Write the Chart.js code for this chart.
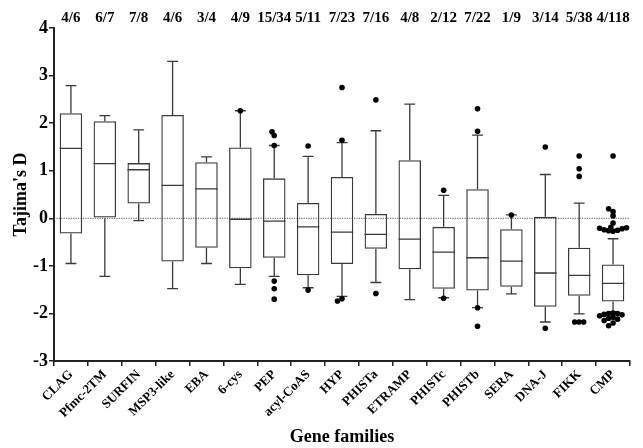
<!DOCTYPE html>
<html>
<head>
<meta charset="utf-8">
<script src="https://cdn.jsdelivr.net/npm/chart.js@4.4.1/dist/chart.umd.min.js"></script>
<style>
  html, body { margin: 0; padding: 0; background: #fff; }
  #wrap { width: 643px; height: 448px; }
</style>
</head>
<body>
<div id="wrap"><canvas id="chart"></canvas></div>
<script>
const families = ['CLAG', 'Pfmc-2TM', 'SURFIN', 'MSP3-like', 'EBA', '6-cys', 'PEP', 'acyl-CoAS',
  'HYP', 'PHISTa', 'ETRAMP', 'PHISTc', 'PHISTb', 'SERA', 'DNA-J', 'FIKK', 'CMP'];
const counts = ['4/6', '6/7', '7/8', '4/6', '3/4', '4/9', '15/34', '5/11',
  '7/23', '7/16', '4/8', '2/12', '7/22', '1/9', '3/14', '5/38', '4/118'];

const whiskerLow  = [-0.95, -1.22, -0.05, -1.48, -0.95, -1.39, -1.22, -1.46, -1.64, -1.35, -1.71, -1.67, -1.88, -1.59, -2.18, -2.01, -1.96];
const q1          = [-0.32,  0.00,  0.31, -0.91, -0.62, -1.05, -0.83, -1.20, -0.96, -0.64, -1.07, -1.48, -1.52, -1.44, -1.86, -1.63, -1.75];
const median      = [ 1.47,  1.15,  1.02,  0.69,  0.62, -0.02, -0.06, -0.18, -0.29, -0.34, -0.44, -0.71, -0.83, -0.90, -1.15, -1.20, -1.37];
const q3          = [ 2.21,  2.04,  1.16,  2.17,  1.18,  1.49,  0.84,  0.32,  0.87,  0.09,  1.22, -0.18,  0.61, -0.23,  0.03, -0.62, -0.97];
const whiskerHigh = [ 2.79,  2.16,  1.86,  3.30,  1.29,  2.26,  1.53,  1.30,  1.59,  1.84,  2.40,  0.48,  1.75,  0.07,  0.92,  0.32, -0.43];

const outliers = [
  [], [], [], [], [],
  [2.26],
  [1.82, 1.74, 1.53, -1.32, -1.48, -1.70],
  [1.52, -1.51],
  [2.75, 1.64, -1.69, -1.74],
  [2.49, -1.58],
  [],
  [0.59, -1.68],
  [2.30, 1.83, -1.88, -2.27],
  [0.07],
  [1.50, -2.31],
  [1.31, 1.04, 0.88, -2.18, -2.18, -2.18],
  [1.31, 0.20, 0.14, 0.05, -0.10, -0.19, -0.20, -0.22, -0.24, -0.26, -0.27, -0.25, -0.21,
   -1.99, -2.00, -2.00, -2.02, -2.03, -2.05, -2.08, -2.10, -2.12, -2.15, -2.20, -2.26]
];

// spread overlapping dots sideways, nearest to the box first (units: category / y value)
function dodge(values, idx) {
  const rx = 0.165, ry = 0.117;
  const mid = median[idx];
  const placed = [];
  values.slice().sort((a, b) => Math.abs(a - mid) - Math.abs(b - mid)).forEach(v => {
    for (let k = 0; k < 24; k++) {
      const off = (k % 2 ? -1 : 1) * Math.ceil(k / 2) * rx * 0.4;
      const hit = placed.some(p => ((p.x - off) / rx) ** 2 + ((p.y - v) / ry) ** 2 < 0.5);
      if (!hit) { placed.push({ x: off, y: v }); break; }
    }
  });
  return placed.map(p => ({ x: idx + p.x, y: p.y }));
}

const dots = outliers.flatMap((vals, i) => dodge(vals, i));

const ink = '#3a3a3a';
const serif = 'Liberation Serif, Times New Roman, serif';

const boxPlugin = {
  id: 'boxWhiskers',
  beforeDatasetsDraw(chart) {
    const { ctx, chartArea, scales: { y } } = chart;
    const bars = chart.getDatasetMeta(0).data;
    ctx.save();
    // dotted zero line
    const y0 = y.getPixelForValue(0);
    ctx.strokeStyle = '#555';
    ctx.lineWidth = 1;
    ctx.setLineDash([1.2, 1.2]);
    ctx.beginPath();
    ctx.moveTo(chartArea.left, y0);
    ctx.lineTo(chartArea.right, y0);
    ctx.stroke();
    ctx.setLineDash([]);

    ctx.strokeStyle = ink;
    ctx.lineWidth = 1.3;
    families.forEach((f, i) => {
      const cx = bars[i].x;
      const w = bars[i].width;
      const cap = w * 0.24;
      const pHi = y.getPixelForValue(whiskerHigh[i]);
      const pLo = y.getPixelForValue(whiskerLow[i]);
      const pQ1 = y.getPixelForValue(q1[i]);
      const pQ3 = y.getPixelForValue(q3[i]);
      const pMed = y.getPixelForValue(median[i]);
      ctx.beginPath();
      ctx.moveTo(cx, pQ3); ctx.lineTo(cx, pHi);
      ctx.moveTo(cx - cap, pHi); ctx.lineTo(cx + cap, pHi);
      ctx.moveTo(cx, pQ1); ctx.lineTo(cx, pLo);
      ctx.moveTo(cx - cap, pLo); ctx.lineTo(cx + cap, pLo);
      ctx.moveTo(cx - w / 2, pMed); ctx.lineTo(cx + w / 2, pMed);
      ctx.stroke();
    });
    ctx.restore();
  }
};

new Chart(document.getElementById('chart'), {
  type: 'bar',
  data: {
    labels: families,
    datasets: [
      {
        data: q1.map((v, i) => [v, q3[i]]),
        backgroundColor: 'rgba(0,0,0,0)',
        borderColor: ink,
        borderWidth: 1.3,
        borderSkipped: false,
        grouped: false,
        categoryPercentage: 1,
        barPercentage: 0.665,
      },
      {
        type: 'scatter',
        data: dots,
        xAxisID: 'xs',
        pointRadius: 2.8,
        pointBackgroundColor: '#000',
        pointBorderWidth: 0,
      },
    ],
  },
  options: {
    responsive: true,
    maintainAspectRatio: false,
    animation: false,
    layout: { padding: { top: 0, right: 13, bottom: 0, left: 0 } },
    plugins: { legend: { display: false }, tooltip: { enabled: false } },
    scales: {
      x: {
        type: 'category',
        position: 'bottom',
        offset: true,
        afterFit: (s) => { s.height = 87; },
        grid: { drawOnChartArea: false, drawTicks: true, tickLength: 5, color: '#222', lineWidth: 1.5 },
        border: { color: '#222', width: 2 },
        ticks: {
          autoSkip: false,
          minRotation: 45,
          maxRotation: 45,
          padding: 1,
          color: '#000',
          font: { family: serif, size: 13, weight: 'bold' },
        },
        title: {
          display: true,
          text: 'Gene families',
          color: '#000',
          padding: { top: 0, bottom: 0 },
          font: { family: serif, size: 18, weight: 'bold' },
        },
      },
      xTop: {
        type: 'category',
        position: 'top',
        labels: counts,
        offset: true,
        afterFit: (s) => { s.height = 28; },
        grid: { display: false, drawTicks: false },
        border: { display: false },
        ticks: {
          autoSkip: false,
          maxRotation: 0,
          padding: 1,
          color: '#000',
          font: { family: serif, size: 15, weight: 'bold' },
        },
      },
      xs: {
        type: 'linear',
        display: false,
        offset: false,
        grid: { offset: false },
        bounds: 'data',
        min: -0.5,
        max: families.length - 0.5,
      },
      y: {
        type: 'linear',
        min: -3,
        max: 4,
        afterFit: (s) => { s.width = 54; },
        grid: { drawOnChartArea: false, drawTicks: true, tickLength: 5, color: '#222', lineWidth: 1.5 },
        border: { color: '#222', width: 2 },
        ticks: {
          stepSize: 1,
          padding: 1,
          color: '#000',
          font: { family: serif, size: 18, weight: 'bold' },
        },
        title: {
          display: true,
          text: "Tajima's D",
          color: '#000',
          padding: { top: 11, bottom: 0 },
          font: { family: serif, size: 18, weight: 'bold' },
        },
      },
    },
  },
  plugins: [boxPlugin],
});
</script>
</body>
</html>
